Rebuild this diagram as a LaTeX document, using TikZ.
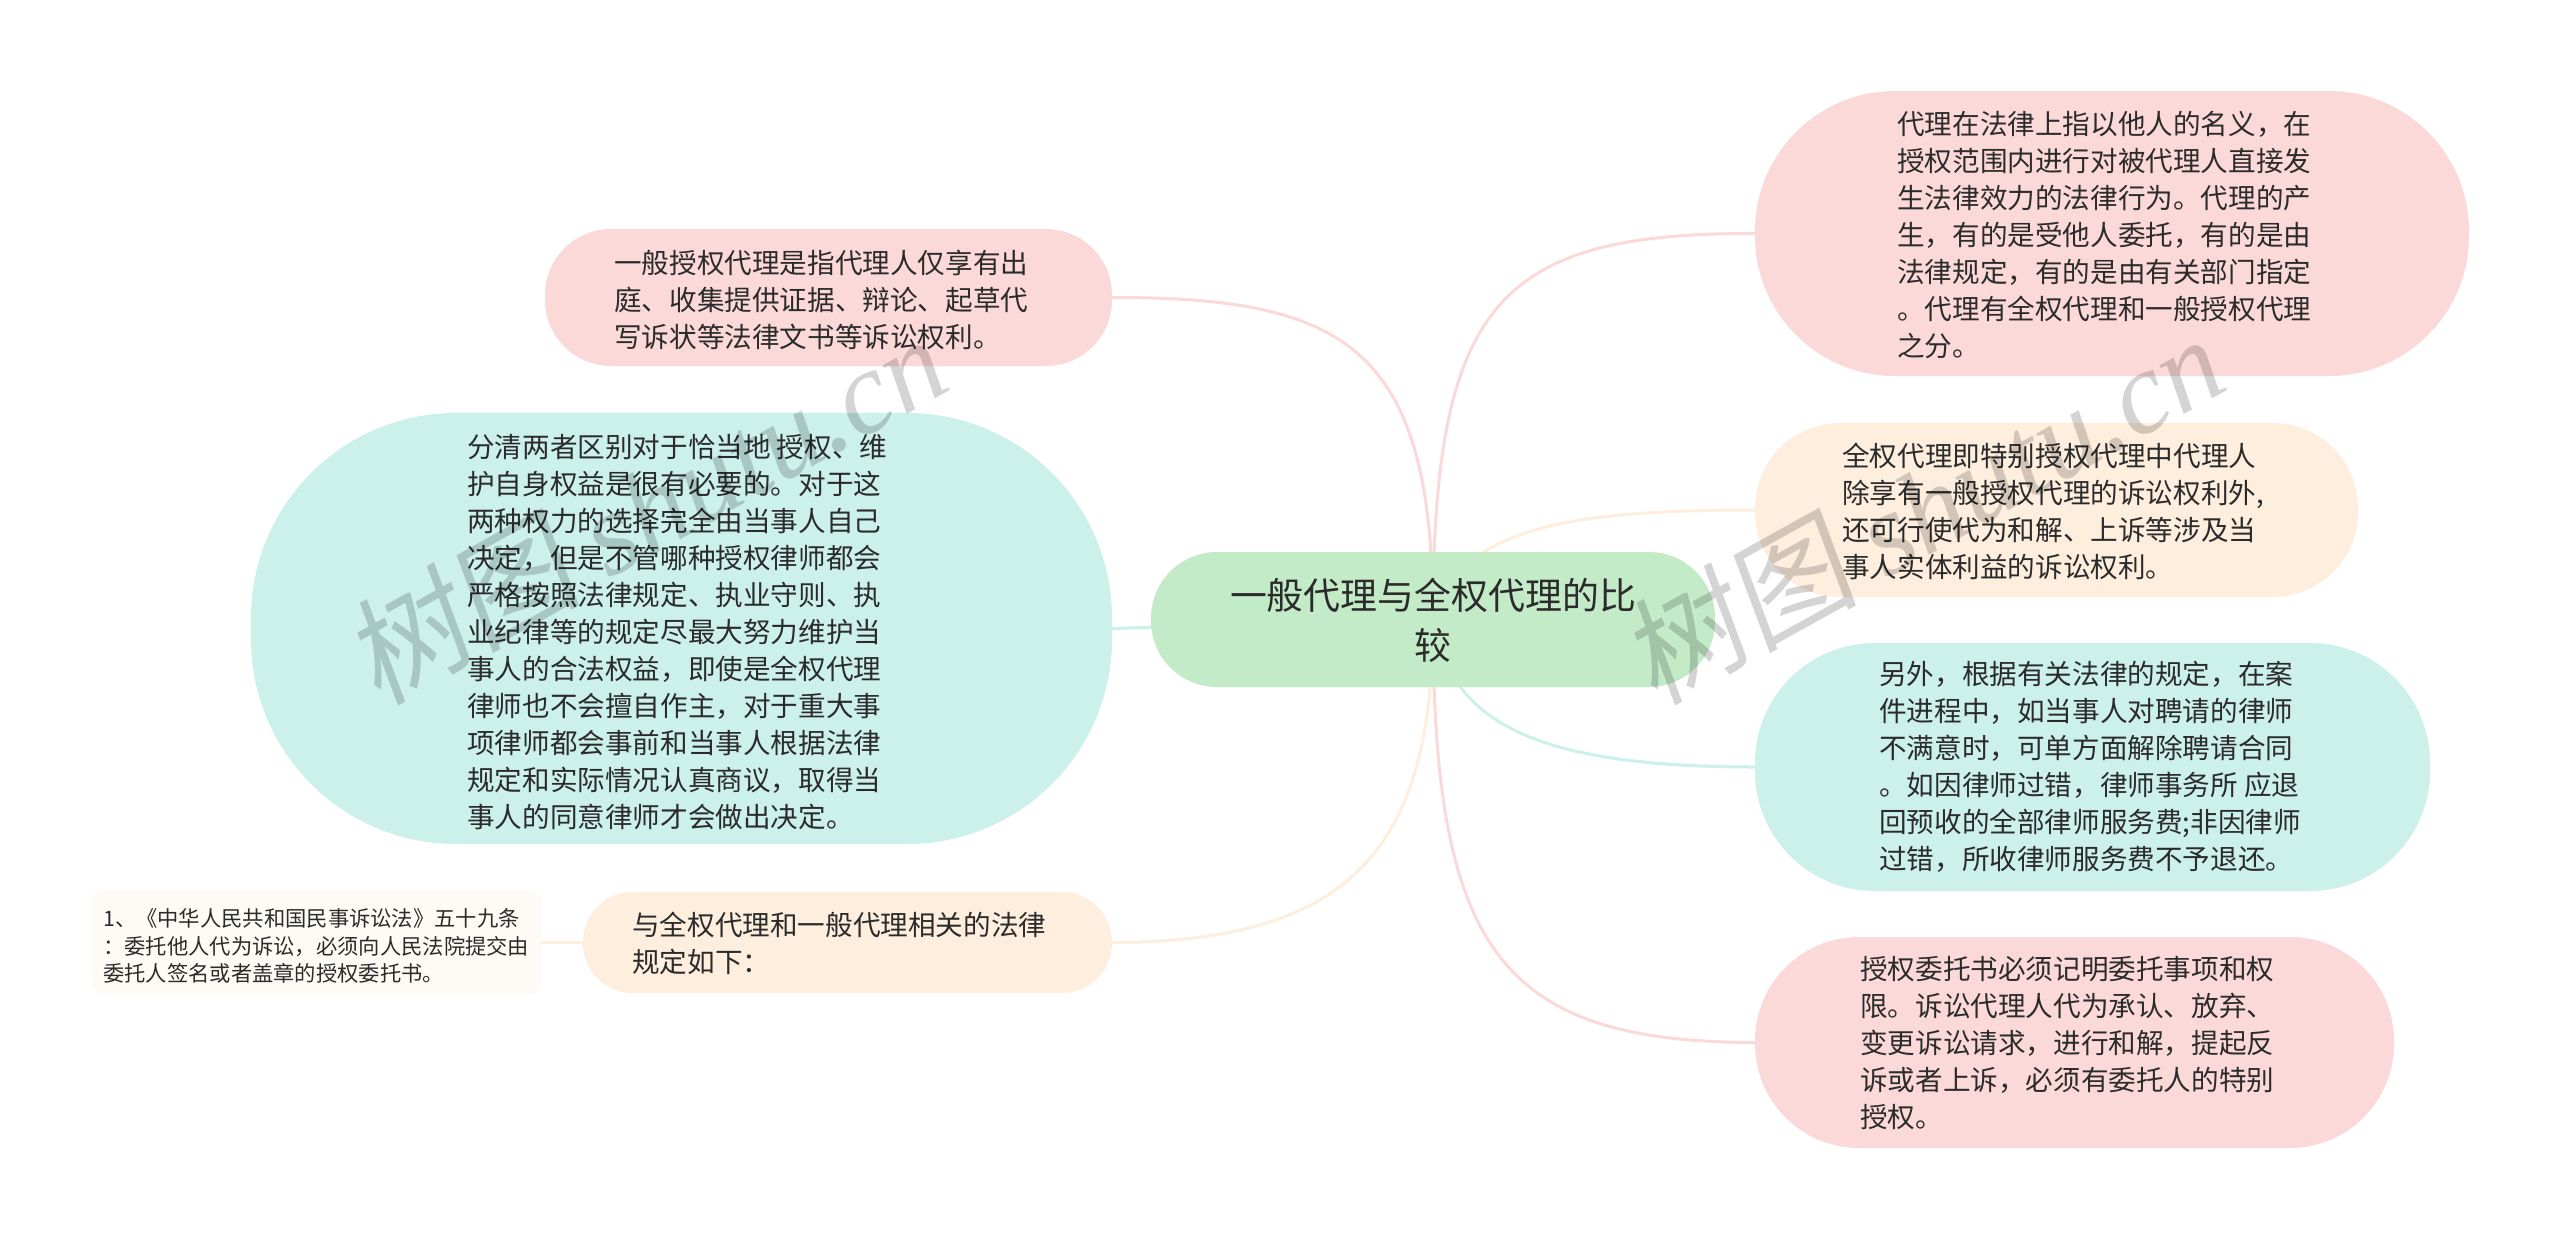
\documentclass[tikz,border=0pt]{standalone}
\usepackage{fontspec}
\setmainfont{Noto Sans CJK SC}
\newfontfamily\wmfont{Liberation Serif}
\newfontfamily\wmcjk[FakeSlant=0.15]{Noto Sans CJK SC}
\usetikzlibrary{backgrounds}
\definecolor{cpink}{HTML}{FCD9D9}
\definecolor{corange}{HTML}{FDEEDE}
\definecolor{cteal}{HTML}{CCF0EA}
\definecolor{cgreen}{HTML}{C4EBC8}
\definecolor{cpale}{HTML}{FEFBF6}
\definecolor{ctext}{HTML}{2B2B2B}
\tikzset{
  x=1pt,y=-1pt,
  boxnode/.style={inner sep=0pt,outer sep=0pt},
  label28/.style={anchor=west,align=left,inner sep=0pt,text=ctext,font=\fontsize{27.6}{37}\selectfont},
  label21/.style={anchor=west,align=left,inner sep=0pt,text=ctext,font=\fontsize{21.3}{27.5}\selectfont},
  rootlabel/.style={anchor=center,align=center,inner sep=0pt,text=ctext,font=\fontsize{36.9}{50}\selectfont},
  link/.style={line width=3pt},
  watermark/.style={rotate=29,anchor=center,inner sep=0pt,text=black,text opacity=0.17,font=\fontsize{118}{118}\selectfont}
}
% name, x1, y1, x2, y2, radius, colour
\newcommand{\mmbox}[7]{%
  \node[boxnode,fill=#7,rounded corners=#6pt,minimum width={(#4-#2)*1pt},minimum height={(#5-#3)*1pt}] (#1) at ({(#2+#4)/2},{(#3+#5)/2}) {};}
\begin{document}
\begin{tikzpicture}
\useasboundingbox (0,0) rectangle (2560,1240);

\mmbox{root}{1151}{552}{1715}{687}{66}{cgreen}
\mmbox{ra}{1755}{91}{2469}{376}{140}{cpink}
\mmbox{rb}{1755}{423}{2358}{597}{85}{corange}
\mmbox{rc}{1755}{643}{2430}{891}{120}{cteal}
\mmbox{rd}{1755}{937}{2394}{1148}{104}{cpink}
\mmbox{la}{545}{229}{1112}{366}{66}{cpink}
\mmbox{lb}{251}{413}{1112}{844}{205}{cteal}
\mmbox{lc}{583}{892}{1112}{993}{50}{corange}
\mmbox{ld}{92}{891}{541}{994}{10}{cpale}

\begin{pgfonlayer}{background}
\fill[white] (0,0) rectangle (2560,1240);
\draw[link,cpink] (root.center) .. controls (1433,300) and (1500,233) .. (ra.west);
\draw[link,corange] (root.center) .. controls (1460,530) and (1560,510) .. (rb.west);
\draw[link,cteal] (root.center) .. controls (1450,720) and (1530,767) .. (rc.west);
\draw[link,cpink] (root.center) .. controls (1433,950) and (1500,1042) .. (rd.west);
\draw[link,cpink] (root.center) .. controls (1433,350) and (1350,297) .. (la.east);
\draw[link,cteal] (root.center) -- (lb.east);
\draw[link,corange] (root.center) .. controls (1433,850) and (1350,942) .. (lc.east);
\draw[link,corange] (lc.west) -- (ld.east);
\end{pgfonlayer}

\node[rootlabel] (troot) at (1433,620) {一般代理与全权代理的比\\较};
\node[label28] (tra) at (1897,235) {代理在法律上指以他人的名义，在\\授权范围内进行对被代理人直接发\\生法律效力的法律行为。代理的产\\生，有的是受他人委托，有的是由\\法律规定，有的是由有关部门指定\\。代理有全权代理和一般授权代理\\之分。};
\node[label28] (trb) at (1842,511) {全权代理即特别授权代理中代理人\\除享有一般授权代理的诉讼权利外,\\还可行使代为和解、上诉等涉及当\\事人实体利益的诉讼权利。};
\node[label28] (trc) at (1879,767) {另外，根据有关法律的规定，在案\\件进程中，如当事人对聘请的律师\\不满意时，可单方面解除聘请合同\\。如因律师过错，律师事务所 应退\\回预收的全部律师服务费;非因律师\\过错，所收律师服务费不予退还。};
\node[label28] (trd) at (1860,1043) {授权委托书必须记明委托事项和权\\限。诉讼代理人代为承认、放弃、\\变更诉讼请求，进行和解，提起反\\诉或者上诉，必须有委托人的特别\\授权。};
\node[label28] (tla) at (614,300) {一般授权代理是指代理人仅享有出\\庭、收集提供证据、辩论、起草代\\写诉状等法律文书等诉讼权利。};
\node[label28] (tlb) at (467,632) {分清两者区别对于恰当地 授权、维\\护自身权益是很有必要的。对于这\\两种权力的选择完全由当事人自己\\决定，但是不管哪种授权律师都会\\严格按照法律规定、执业守则、执\\业纪律等的规定尽最大努力维护当\\事人的合法权益，即使是全权代理\\律师也不会擅自作主，对于重大事\\项律师都会事前和当事人根据法律\\规定和实际情况认真商议，取得当\\事人的同意律师才会做出决定。};
\node[label28] (tlc) at (632,943) {与全权代理和一般代理相关的法律\\规定如下：};
\node[label21] (tld) at (103,946) {1、《中华人民共和国民事诉讼法》五十九条\\：委托他人代为诉讼，必须向人民法院提交由\\委托人签名或者盖章的授权委托书。};

\node[watermark] (wma) at (645,508) {{\wmcjk 树图} {\wmfont\itshape shutu.cn}};
\node[watermark] (wmb) at (1922,508) {{\wmcjk 树图} {\wmfont\itshape shutu.cn}};
\end{tikzpicture}
\end{document}
